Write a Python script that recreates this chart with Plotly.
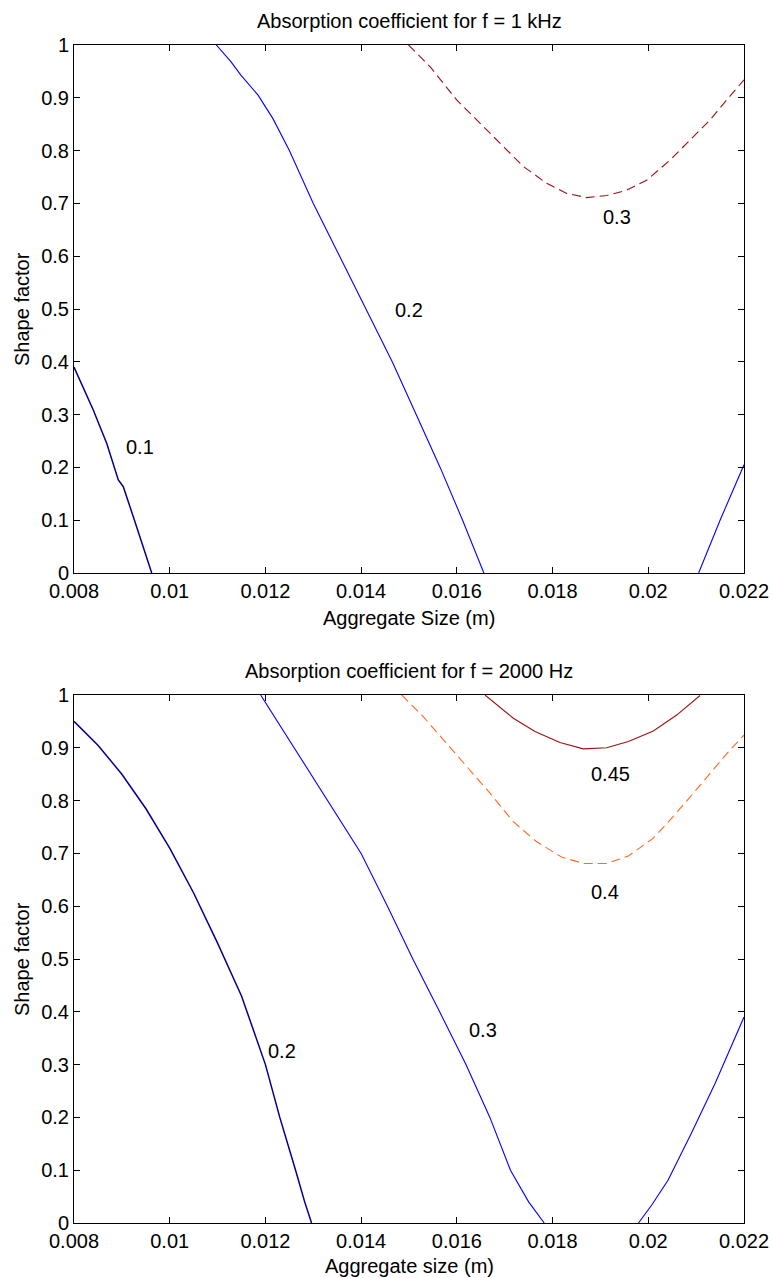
import plotly.graph_objects as go

# ---------------- data ----------------
x_ticks = [0.008, 0.010, 0.012, 0.014, 0.016, 0.018, 0.020, 0.022]
x_tick_text = ["0.008", "0.01", "0.012", "0.014", "0.016", "0.018", "0.02", "0.022"]
y_ticks = [0, 0.1, 0.2, 0.3, 0.4, 0.5, 0.6, 0.7, 0.8, 0.9, 1.0]
y_tick_text = ["0", "0.1", "0.2", "0.3", "0.4", "0.5", "0.6", "0.7", "0.8", "0.9", "1"]

# top panel: f = 1 kHz
top_c01_x = [0.008, 0.008125, 0.008403, 0.008543, 0.008683, 0.008926, 0.009030, 0.009239, 0.009448, 0.009624]
top_c01_y = [0.390, 0.3655, 0.3087, 0.2771, 0.2456, 0.1761, 0.1634, 0.1066, 0.0498, 0.0]
top_c02_x = [0.010974, 0.011282, 0.011487, 0.011846, 0.012154, 0.01250, 0.01300, 0.01355, 0.01410,
             0.01465, 0.01515, 0.01565, 0.01612, 0.016564]
top_c02_y = [1.0, 0.968, 0.943, 0.905, 0.861, 0.800, 0.700, 0.600, 0.500,
             0.400, 0.300, 0.200, 0.100, 0.0]
top_c02b_x = [0.021052, 0.02150, 0.022]
top_c02b_y = [0.0, 0.100, 0.205]
top_c03_x = [0.01499, 0.015439, 0.015997, 0.016484, 0.016901, 0.017389, 0.017877, 0.018295, 0.018713,
             0.019131, 0.019549, 0.019967, 0.020454, 0.020872, 0.021290, 0.021638, 0.022]
top_c03_y = [1.0, 0.959, 0.896, 0.852, 0.814, 0.770, 0.738, 0.719, 0.711,
             0.715, 0.725, 0.744, 0.782, 0.820, 0.858, 0.896, 0.934]
top_labels = ["0.1", "0.2", "0.3"]
top_label_x = [0.009379, 0.01500, 0.019340]
top_label_y = [0.239, 0.498, 0.675]

# bottom panel: f = 2000 Hz
bot_c02_x = [0.008, 0.0085, 0.0090, 0.0095, 0.0100, 0.0105, 0.0110, 0.0115, 0.0120, 0.01230, 0.01263, 0.01282, 0.012964]
bot_c02_y = [0.950, 0.905, 0.850, 0.785, 0.710, 0.625, 0.530, 0.430, 0.300, 0.200, 0.100, 0.040, 0.0]
bot_c03_x = [0.0119, 0.0126, 0.0133, 0.0140, 0.01455, 0.01508, 0.01564, 0.01619, 0.01669, 0.01712, 0.01750, 0.017826]
bot_c03_y = [1.0, 0.900, 0.800, 0.700, 0.600, 0.500, 0.400, 0.300, 0.200, 0.100, 0.040, 0.0]
bot_c03b_x = [0.019795, 0.020072, 0.020412, 0.0209, 0.0214, 0.022]
bot_c03b_y = [0.0, 0.034, 0.081, 0.170, 0.265, 0.390]
bot_c04_x = [0.014848, 0.015299, 0.015788, 0.016206, 0.016693, 0.017180, 0.017668, 0.018190, 0.018642,
             0.019131, 0.019583, 0.020105, 0.020523, 0.020941, 0.021359, 0.021707, 0.022]
bot_c04_y = [1.0, 0.959, 0.908, 0.864, 0.814, 0.760, 0.722, 0.693, 0.681,
             0.681, 0.695, 0.729, 0.770, 0.814, 0.858, 0.896, 0.924]
bot_c045_x = [0.016588, 0.017180, 0.017633, 0.018155, 0.018642, 0.019131, 0.019583, 0.020105, 0.020593, 0.021081]
bot_c045_y = [1.0, 0.956, 0.931, 0.910, 0.898, 0.900, 0.912, 0.932, 0.962, 0.999]
bot_labels = ["0.2", "0.3", "0.4", "0.45"]
bot_label_x = [0.01235, 0.01655, 0.019095, 0.019200]
bot_label_y = [0.325, 0.365, 0.627, 0.850]

# ---------------- styling ----------------
NAVY = "#00008F"
BLUE = "#0000FF"
ORANGE = "#FF6A20"
DARKRED = "#A01010"
FONT = "Liberation Sans"
FS = 20
DASH = "9px,5px"

fig = go.Figure()

def line(x, y, color, xa, ya, dash="solid", width=1.1):
    fig.add_trace(go.Scatter(x=x, y=y, mode="lines", xaxis=xa, yaxis=ya,
                             line=dict(color=color, width=width, dash=dash),
                             hoverinfo="skip", showlegend=False))

line(top_c01_x, top_c01_y, NAVY, "x", "y", width=1.5)
line(top_c02_x, top_c02_y, BLUE, "x", "y")
line(top_c02b_x, top_c02b_y, BLUE, "x", "y")
line(top_c03_x, top_c03_y, DARKRED, "x", "y", dash=DASH)

line(bot_c02_x, bot_c02_y, NAVY, "x2", "y2", width=1.5)
line(bot_c03_x, bot_c03_y, BLUE, "x2", "y2")
line(bot_c03b_x, bot_c03b_y, BLUE, "x2", "y2")
line(bot_c04_x, bot_c04_y, ORANGE, "x2", "y2", dash=DASH)
line(bot_c045_x, bot_c045_y, DARKRED, "x2", "y2")

annotations = []
for t, x, y in zip(top_labels, top_label_x, top_label_y):
    annotations.append(dict(text=t, x=x, y=y, xref="x", yref="y", showarrow=False,
                            font=dict(family=FONT, size=FS, color="black")))
for t, x, y in zip(bot_labels, bot_label_x, bot_label_y):
    annotations.append(dict(text=t, x=x, y=y, xref="x2", yref="y2", showarrow=False,
                            font=dict(family=FONT, size=FS, color="black")))

W, H = 772, 1278
xl, xr = 74 / W, 744 / W
top_dom = [1 - 573 / H, 1 - 45 / H]
bot_dom = [1 - 1223 / H, 1 - 695 / H]
xc = (xl + xr) / 2

titles = [("Absorption coefficient for f = 1 kHz", 1 - 21 / H),
          ("Absorption coefficient for f = 2000 Hz", 1 - 671 / H)]
for t, yy in titles:
    annotations.append(dict(text=t, x=xc, y=yy, xref="paper", yref="paper", showarrow=False,
                            xanchor="center", yanchor="middle",
                            font=dict(family=FONT, size=FS, color="black")))
xlabels = [("Aggregate Size (m)", 1 - 618 / H), ("Aggregate size (m)", 1 - 1266 / H)]
for t, yy in xlabels:
    annotations.append(dict(text=t, x=xc, y=yy, xref="paper", yref="paper", showarrow=False,
                            xanchor="center", yanchor="middle",
                            font=dict(family=FONT, size=FS, color="black")))
for dom in (top_dom, bot_dom):
    annotations.append(dict(text="Shape factor", x=22 / W, y=(dom[0] + dom[1]) / 2,
                            xref="paper", yref="paper", showarrow=False, textangle=-90,
                            xanchor="center", yanchor="middle",
                            font=dict(family=FONT, size=FS, color="black")))

axis_common = dict(showline=True, linecolor="black", linewidth=1, mirror="allticks",
                   ticks="inside", ticklen=6, tickcolor="black", tickwidth=1,
                   showgrid=False, zeroline=False, automargin=False,
                   tickfont=dict(family=FONT, size=FS, color="black"))

fig.update_layout(
    template="none",
    width=W, height=H, margin=dict(l=0, r=0, t=0, b=0, pad=0, autoexpand=False),
    paper_bgcolor="white", plot_bgcolor="white",
    annotations=annotations,
    xaxis=dict(domain=[xl, xr], range=[0.008, 0.022], tickvals=x_ticks, ticktext=x_tick_text,
               anchor="y", **axis_common),
    yaxis=dict(domain=top_dom, range=[0, 1], tickvals=y_ticks, ticktext=y_tick_text,
               anchor="x", **axis_common),
    xaxis2=dict(domain=[xl, xr], range=[0.008, 0.022], tickvals=x_ticks, ticktext=x_tick_text,
                anchor="y2", **axis_common),
    yaxis2=dict(domain=bot_dom, range=[0, 1], tickvals=y_ticks, ticktext=y_tick_text,
                anchor="x2", **axis_common),
)

fig.write_html("out.html")
